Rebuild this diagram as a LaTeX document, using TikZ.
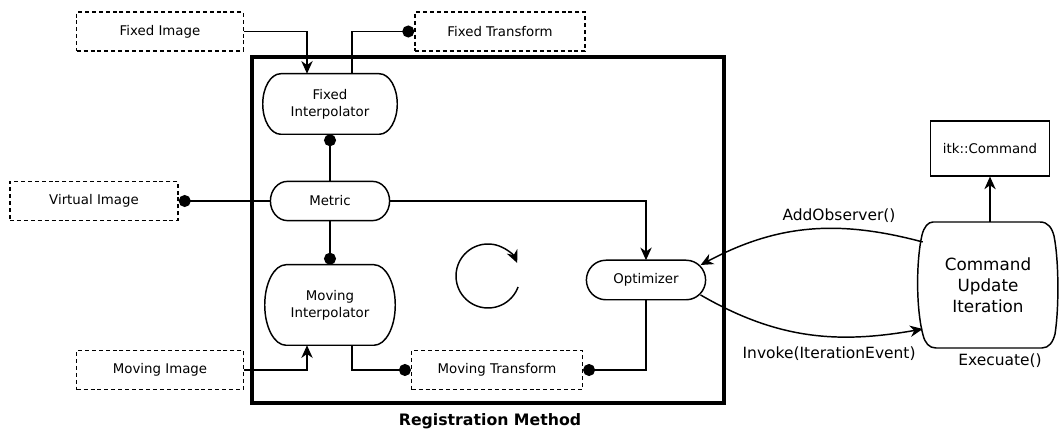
\documentclass[tikz,border=0pt]{standalone}
\usepackage{fontspec}
\setmainfont{DejaVu Sans}
\usetikzlibrary{arrows.meta, calc}

% outline with half-elliptic ends round a node: node name, x radius of the ends
\newcommand{\pillborder}[2]{%
  \draw[border] let \p1 = ($(#1.north)-(#1.center)$) in
    ($(#1.north west)+(#2,0)$) -- ($(#1.north east)+(-#2,0)$)
    arc[start angle=90, end angle=-90, x radius=#2, y radius=\y1]
    -- ($(#1.south west)+(#2,0)$)
    arc[start angle=270, end angle=90, x radius=#2, y radius=\y1] -- cycle;}

\begin{document}
\begin{tikzpicture}[
        x=0.75pt, y=0.75pt,
        font=\fontsize{10}{13}\selectfont,
        >={Stealth[length=9.5pt,width=8.5pt,inset=3pt]},
        border/.style={draw=black, line width=1.1pt},
        data/.style={rectangle, draw=black, dash pattern=on 3pt off 2.2pt, line width=1.1pt, minimum width=125pt, minimum height=29.5pt, inner sep=0pt},
        proc/.style={rectangle, align=center, inner sep=0pt},
        line/.style={->, line width=1.1pt},
        dot/.style={-{Circle[length=9pt]}, line width=1.1pt},
        lbl/.style={font=\fontsize{11.6}{13}\selectfont, inner sep=1pt}
    ]
    \useasboundingbox (0,0) rectangle (1059,431);

    % registration method frame
    \node[draw=black, line width=3.2pt, minimum width=354pt, minimum height=259.5pt, inner sep=0pt] (reg) at (488,201) {};
    \node[font=\fontsize{11.8}{13}\selectfont\bfseries] (regtitle) at (490,10) {Registration Method};

    \node[data] (fimg) at (160,399.5) {Fixed Image};
    \node[data, minimum width=127.5pt] (ftrans) at (500,399.5) {Fixed Transform};
    \node[data, minimum width=126pt] (vimg) at (94,230) {Virtual Image};
    \node[data] (mimg) at (160,61) {Moving Image};
    \node[data, minimum width=128pt] (mtrans) at (497,61) {Moving Transform};

    \node[proc, minimum width=100.5pt, minimum height=45pt] (finterp) at (330,327) {Fixed\\Interpolator};
    \node[proc, minimum width=89pt, minimum height=29pt] (metric) at (330,230) {Metric};
    \node[proc, minimum width=97.5pt, minimum height=60pt] (minterp) at (330,126) {Moving\\Interpolator};
    \node[proc, minimum width=89pt, minimum height=29.25pt] (opt) at (646,151) {Optimizer};
    \pillborder{finterp}{13.5pt}
    \pillborder{metric}{12.75pt}
    \pillborder{minterp}{16pt}
    \pillborder{opt}{14.6pt}

    \node[proc, draw=black, line width=1.1pt, minimum width=89pt, minimum height=41pt] (itk) at (990,282.5) {itk::Command};
    \node[align=center, font=\fontsize{12.6}{15.75}\selectfont, minimum width=105pt, minimum height=94.5pt] (cmd) at (988,146) {Command\\Update\\Iteration};
    % barrel outline of the command
    \draw[border, shift={(cmd.center)}] (-55,63) -- (52,63)
        .. controls (60,63) and (64,57) .. (66,49)
        .. controls (71,24) and (71,-24) .. (67,-49)
        .. controls (65,-57) and (61,-63) .. (54,-63) -- (-52,-63)
        .. controls (-59,-63) and (-63,-58) .. (-65,-50)
        .. controls (-72,-24) and (-72,24) .. (-66,50)
        .. controls (-64,58) and (-60,63) .. (-55,63) -- cycle;

    \draw[line] (fimg.east) -| ($(finterp.north)+(-23,0)$);
    \draw[dot] ($(finterp.north)+(22,0)$) |- (ftrans.west);
    \draw[dot] (metric.north) -- (finterp.south);
    \draw[dot] (metric.south) -- (minterp.north);
    \draw[dot] (metric.west) -- (vimg.east);
    \draw[line] (metric.east) -| (opt.north);
    \draw[line] (mimg.east) -| ($(minterp.south)+(-23,0)$);
    \draw[dot] ($(minterp.south)+(22,0)$) |- (mtrans.west);
    \draw[dot] (opt.south) |- (mtrans.east);

    \draw[line] ($(cmd.west)+(5,43)$) to[out=165,in=28] node[lbl, above=3pt, pos=0.36] {AddObserver()} ($(opt.east)+(-5,15)$);
    \draw[line] ($(opt.east)+(-5,-15)$) to[out=-30,in=190] node[lbl, below=6pt, pos=0.6] {Invoke(IterationEvent)} ($(cmd.west)+(5,-44)$);
    \draw[line] (itk.south |- cmd.north) -- (itk.south);
    \node[lbl] (exec) at ($(cmd.south)+(12,-12)$) {Execuate()};

    % iteration loop
    \coordinate (loop) at (488,155);
    \draw[line] ($(loop)+(-20:24pt)$) arc[start angle=-20, end angle=-336, radius=24pt];
\end{tikzpicture}
\end{document}
